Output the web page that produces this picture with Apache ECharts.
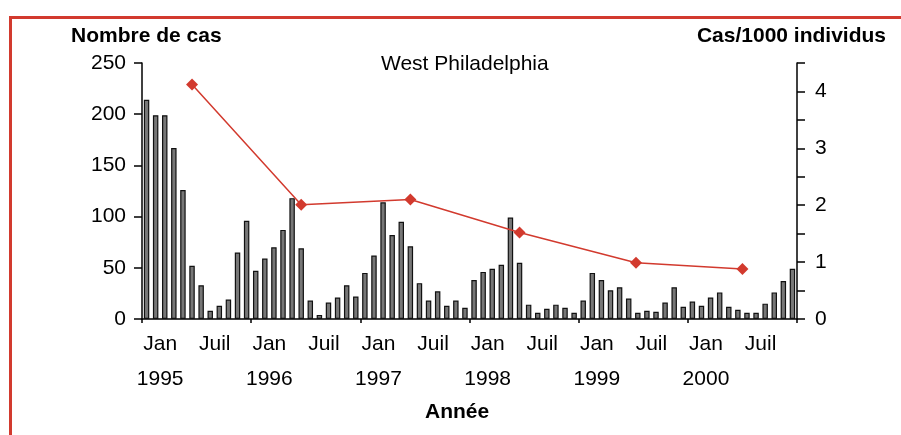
<!DOCTYPE html>
<html>
<head>
<meta charset="utf-8">
<script src="https://cdn.jsdelivr.net/npm/echarts@6/dist/echarts.min.js"></script>
<style>
html,body{margin:0;padding:0;background:#fff;}
#chart{width:901px;height:435px;}
</style>
</head>
<body>
<div id="chart"></div>
<script>
// ---- Data ----
var years = ['1995', '1996', '1997', '1998', '1999', '2000'];
var months = ['Jan', 'Fév', 'Mar', 'Avr', 'Mai', 'Juin', 'Juil', 'Aoû', 'Sep', 'Oct', 'Nov', 'Déc'];
var cases1995 = [214, 199, 199, 167, 126, 52, 33, 8, 13, 19, 65, 96];
var cases1996 = [47, 59, 70, 87, 118, 69, 18, 4, 16, 21, 33, 22];
var cases1997 = [45, 62, 114, 82, 95, 71, 35, 18, 27, 13, 18, 11];
var cases1998 = [38, 46, 49, 53, 99, 55, 14, 6, 10, 14, 11, 6];
var cases1999 = [18, 45, 38, 28, 31, 20, 6, 8, 7, 16, 31, 12];
var cases2000 = [17, 13, 21, 26, 12, 9, 6, 6, 15, 26, 37, 49];
var ratePositions = [5.5, 17.5, 29.5, 41.5, 54.3, 66.0]; // month position of each annual rate
var rateValues = [4.12, 2.01, 2.10, 1.52, 0.99, 0.88];
var leftTicks = [0, 50, 100, 150, 200, 250];
var rightTickLabels = [0, 1, 2, 3, 4];
var xLabelJan = 'Jan';
var xLabelJul = 'Juil';

// ---- Build ----
var categories = [];
years.forEach(function (y) { months.forEach(function (m) { categories.push(y + '-' + m); }); });
var cases = [].concat(cases1995, cases1996, cases1997, cases1998, cases1999, cases2000);
var ratePoints = ratePositions.map(function (p, i) { return [p, rateValues[i]]; });

var FONT = 'Liberation Sans, Arial, Helvetica, sans-serif';
var RED = '#d23a2e';

var chart = echarts.init(document.getElementById('chart'), null, { renderer: 'canvas' });
chart.setOption({
  animation: false,
  backgroundColor: '#fff',
  textStyle: { fontFamily: FONT },
  grid: { left: 142, right: 104, top: 63, bottom: 116, containLabel: false },
  xAxis: [{
    type: 'category',
    data: categories,
    boundaryGap: true,
    axisLine: { show: true, lineStyle: { color: '#000', width: 1.5 } },
    axisTick: { show: true, length: 4, lineStyle: { color: '#000', width: 1.5 },
      interval: function (i) { return i % 12 === 0; } },
    axisLabel: {
      show: true,
      interval: function (i) { return i % 12 === 1 || i % 12 === 7; },
      formatter: function (v, i) {
        var k = i % 12;
        if (k === 1) return xLabelJan + '\n' + years[Math.floor(i / 12)];
        if (k === 7) return xLabelJul;
        return '';
      },
      fontSize: 21, color: '#000', lineHeight: 35, margin: 8,
      padding: [0, 0, 0, 9], fontFamily: FONT
    },
    splitLine: { show: false }
  }, {
    type: 'value', min: 0, max: 72, show: false
  }],
  yAxis: [{
    type: 'value', min: 0, max: 250, interval: 50,
    axisLine: { show: true, lineStyle: { color: '#000', width: 1.5 } },
    axisTick: { show: true, inside: false, length: 8, lineStyle: { color: '#000', width: 1.5 } },
    axisLabel: { fontSize: 21, color: '#000', margin: 16, fontFamily: FONT,
      formatter: function (v) { return leftTicks.indexOf(v) >= 0 ? String(v) : ''; } },
    splitLine: { show: false }
  }, {
    type: 'value', min: 0, max: 4.5, interval: 0.5, position: 'right',
    axisLine: { show: true, lineStyle: { color: '#000', width: 1.5 } },
    axisTick: { show: true, inside: false, length: 8, lineStyle: { color: '#000', width: 1.5 } },
    axisLabel: { fontSize: 21, color: '#000', margin: 18, fontFamily: FONT,
      formatter: function (v) { return rightTickLabels.indexOf(v) >= 0 ? String(v) : ''; } },
    splitLine: { show: false }
  }],
  series: [{
    type: 'bar',
    xAxisIndex: 0, yAxisIndex: 0,
    data: cases,
    barCategoryGap: '40%',
    itemStyle: { color: '#777', borderColor: '#111', borderWidth: 1.2 },
    z: 2
  }, {
    type: 'line',
    xAxisIndex: 1, yAxisIndex: 1,
    data: ratePoints,
    symbol: 'diamond', symbolSize: 12,
    lineStyle: { color: RED, width: 1.5 },
    itemStyle: { color: RED },
    z: 3
  }],
  graphic: [
    { type: 'rect', shape: { x: 10.5, y: 17.5, width: 960, height: 500 },
      style: { fill: 'none', stroke: RED, lineWidth: 3 }, silent: true, z: 0 },
    { type: 'text', left: 71, top: 26,
      style: { text: 'Nombre de cas', font: 'bold 21px ' + FONT, fill: '#000' } },
    { type: 'text', right: 15, top: 26,
      style: { text: 'Cas/1000 individus', font: 'bold 21px ' + FONT, fill: '#000' } },
    { type: 'text', left: 381, top: 54,
      style: { text: 'West Philadelphia', font: '21px ' + FONT, fill: '#000' } },
    { type: 'text', left: 425, top: 402,
      style: { text: 'Année', font: 'bold 21px ' + FONT, fill: '#000' } }
  ]
});
</script>
</body>
</html>
